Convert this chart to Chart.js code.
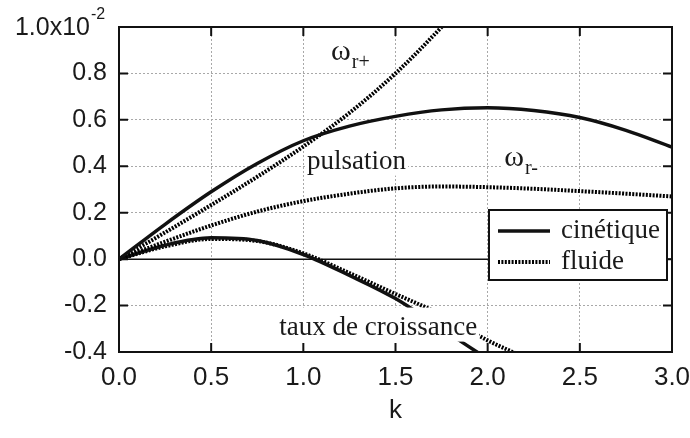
<!DOCTYPE html>
<html>
<head>
<meta charset="utf-8">
<script src="https://cdn.jsdelivr.net/npm/chart.js@4.4.0/dist/chart.umd.min.js"></script>
<style>
html, body { margin: 0; padding: 0; background: #fff; overflow: hidden; }
</style>
</head>
<body>
<canvas id="dispersion" width="690" height="438"></canvas>
<script>
// valeurs (unite : 1e-2)
var kValues         = [0, 0.25, 0.5, 0.75, 1.0, 1.25, 1.5, 1.75, 2.0, 2.25, 2.5, 2.75, 3.0];
var pulsKinetic     = [0, 0.150, 0.290, 0.412, 0.510, 0.573, 0.615, 0.643, 0.652, 0.640, 0.610, 0.555, 0.483];
var pulsPlusFluid   = [0, 0.115, 0.233, 0.355, 0.485, 0.630, 0.800, 1.000, 1.220, null, null, null, null];
var pulsMinusFluid  = [0, 0.075, 0.145, 0.205, 0.250, 0.282, 0.305, 0.313, 0.310, 0.303, 0.293, 0.282, 0.270];
var growthKinetic   = [0, 0.060, 0.092, 0.080, 0.020, -0.070, -0.170, -0.300, -0.430, null, null, null, null];
var growthFluid     = [0, 0.055, 0.087, 0.078, 0.025, -0.060, -0.150, -0.240, -0.350, -0.440, null, null, null];
var xTickValues     = [0, 0.5, 1.0, 1.5, 2.0, 2.5, 3.0];
var yTickValues     = [-0.4, -0.2, 0, 0.2, 0.4, 0.6, 0.8, 1.0];
var legendLabels    = ['cinétique', 'fluide'];

var sansFont = "'Liberation Sans', Arial, Helvetica, sans-serif";
var serifFont = "'Liberation Serif', 'Times New Roman', serif";
const ctx = document.getElementById('dispersion');

function toPoints(values) {
   var pts = [];
   for (var i = 0; i < kValues.length; i++) {
      if (values[i] !== null) pts.push({ x: kValues[i], y: values[i] });
   }
   return pts;
}

var solidStyle = { borderColor: '#111', borderWidth: 3.5, borderDash: [] };
var dotStyle = { borderColor: '#000', borderWidth: 4, borderDash: [2, 1.4] };

function makeSet(label, values, style) {
   return {
      label: label,
      data: toPoints(values),
      borderColor: style.borderColor,
      borderWidth: style.borderWidth,
      borderDash: style.borderDash,
      borderCapStyle: 'butt',
      pointRadius: 0,
      fill: false,
      cubicInterpolationMode: 'monotone'
   };
}

// texte avec un fond blanc (comme sur la figure)
function boxedText(c, text, x, y, font, padTop, padBottom) {
   c.font = font;
   var w = c.measureText(text).width;
   c.fillStyle = '#fff';
   c.fillRect(x - 2, y - padTop, w + 4, padTop + padBottom);
   c.fillStyle = '#1a1a1a';
   c.fillText(text, x, y);
   return w;
}

function omegaLabel(c, sub, x, y) {
   c.font = '30px ' + serifFont;
   var w = c.measureText('\u03c9').width;
   c.font = '20px ' + serifFont;
   var ws = c.measureText(sub).width;
   c.fillStyle = '#fff';
   c.fillRect(x - 2, y - 16, w + ws + 5, 26);
   c.fillStyle = '#1a1a1a';
   c.font = '30px ' + serifFont;
   c.fillText('\u03c9', x, y);
   c.font = '20px ' + serifFont;
   c.fillText(sub, x + w + 1, y + 8);
}

var decorPlugin = {
   id: 'decor',
   beforeDatasetsDraw: function(chart) {
      var c = chart.ctx, ys = chart.scales.y;
      var a = chart.chartArea;
      c.save();
      c.strokeStyle = '#111';
      c.lineWidth = 1.5;
      c.beginPath();
      c.moveTo(a.left, ys.getPixelForValue(0));
      c.lineTo(a.right, ys.getPixelForValue(0));
      c.stroke();
      c.restore();
   },
   afterDatasetsDraw: function(chart) {
      var c = chart.ctx, xs = chart.scales.x, ys = chart.scales.y;
      var a = chart.chartArea;
      c.save();
      c.textBaseline = 'alphabetic';
      c.textAlign = 'left';

      // annotations
      omegaLabel(c, 'r+', xs.getPixelForValue(1.15), ys.getPixelForValue(0.86));
      boxedText(c, 'pulsation', xs.getPixelForValue(1.02), ys.getPixelForValue(0.39), '27px ' + serifFont, 19, 7);
      omegaLabel(c, 'r-', xs.getPixelForValue(2.09), ys.getPixelForValue(0.40));
      boxedText(c, 'taux de croissance', xs.getPixelForValue(0.87), ys.getPixelForValue(-0.325), '27px ' + serifFont, 27, 7);

      // cadre
      c.strokeStyle = '#111';
      c.lineWidth = 2;
      c.strokeRect(a.left, a.top, a.right - a.left, a.bottom - a.top);

      // graduations vers l'interieur
      var tl = 9;
      c.beginPath();
      xTickValues.forEach(function(v) {
         var px = xs.getPixelForValue(v);
         c.moveTo(px, a.bottom); c.lineTo(px, a.bottom - tl);
         c.moveTo(px, a.top); c.lineTo(px, a.top + tl);
      });
      yTickValues.forEach(function(v) {
         var py = ys.getPixelForValue(v);
         c.moveTo(a.left, py); c.lineTo(a.left + tl, py);
         c.moveTo(a.right, py); c.lineTo(a.right - tl, py);
      });
      c.stroke();

      // legende
      var lx = 489, ly = 210, lw = 178, lh = 70;
      c.fillStyle = '#fff';
      c.fillRect(lx, ly, lw, lh);
      c.lineWidth = 2;
      c.strokeRect(lx, ly, lw, lh);
      var styles = [solidStyle, dotStyle];
      for (var i = 0; i < legendLabels.length; i++) {
         var yy = ly + 21 + i * 31;
         c.beginPath();
         c.strokeStyle = styles[i].borderColor;
         c.lineWidth = styles[i].borderWidth;
         c.setLineDash(styles[i].borderDash);
         c.moveTo(lx + 9, yy);
         c.lineTo(lx + 61, yy);
         c.stroke();
         c.setLineDash([]);
         c.fillStyle = '#1a1a1a';
         c.font = '27px ' + serifFont;
         c.fillText(legendLabels[i], lx + 72, yy + 7);
      }

      // etiquette du haut : 1.0x10^-2
      var yTop = ys.getPixelForValue(1.0);
      c.textAlign = 'right';
      c.textBaseline = 'middle';
      c.font = '25px ' + sansFont;
      c.fillStyle = '#1a1a1a';
      c.fillText('1.0x10', 90, yTop + 1);
      c.textAlign = 'left';
      c.font = '16px ' + sansFont;
      c.fillText('-2', 91, yTop - 12);
      c.restore();
   }
};

new Chart(ctx, {
   type: 'line',
   data: {
      datasets: [
         makeSet('pulsation cinétique', pulsKinetic, solidStyle),
         makeSet('pulsation fluide +', pulsPlusFluid, dotStyle),
         makeSet('pulsation fluide -', pulsMinusFluid, dotStyle),
         makeSet('croissance cinétique', growthKinetic, solidStyle),
         makeSet('croissance fluide', growthFluid, dotStyle)
      ]
   },
   options: {
      responsive: false,
      animation: false,
      devicePixelRatio: 1,
      layout: { padding: { left: 0, right: 18, top: 22, bottom: 0 } },
      plugins: {
         legend: { display: false },
         tooltip: { enabled: false }
      },
      scales: {
         x: {
            type: 'linear',
            min: 0,
            max: 3,
            afterBuildTicks: function(scale) {
               scale.ticks = xTickValues.map(function(v) { return { value: v }; });
            },
            afterFit: function(scale) {
               scale.height = 86;
               scale.paddingRight = 0; // le "3.0" deborde du cadre comme sur l'original
            },
            ticks: {
               padding: 10,
               color: '#1a1a1a',
               font: { family: sansFont, size: 26 },
               maxRotation: 0,
               callback: function(v) { return v.toFixed(1); }
            },
            grid: { color: '#a8a8a8', lineWidth: 1, drawTicks: false },
            border: { display: false, dash: [2, 2] },
            title: {
               display: true,
               text: 'k',
               color: '#1a1a1a',
               font: { family: sansFont, size: 26 },
               padding: { top: 4, bottom: 12 }
            }
         },
         y: {
            type: 'linear',
            min: -0.4,
            max: 1.0,
            afterBuildTicks: function(scale) {
               scale.ticks = yTickValues.map(function(v) { return { value: v }; });
            },
            afterFit: function(scale) { scale.width = 119; },
            ticks: {
               padding: 12,
               color: '#1a1a1a',
               font: { family: sansFont, size: 25 },
               callback: function(v) {
                  if (Math.abs(v - 1.0) < 1e-9) return '';
                  if (Math.abs(v) < 1e-9) return '0.0';
                  return v.toFixed(1);
               }
            },
            grid: { color: '#a8a8a8', lineWidth: 1, drawTicks: false },
            border: { display: false, dash: [2, 2] }
         }
      }
   },
   plugins: [decorPlugin]
});
</script>
</body>
</html>
